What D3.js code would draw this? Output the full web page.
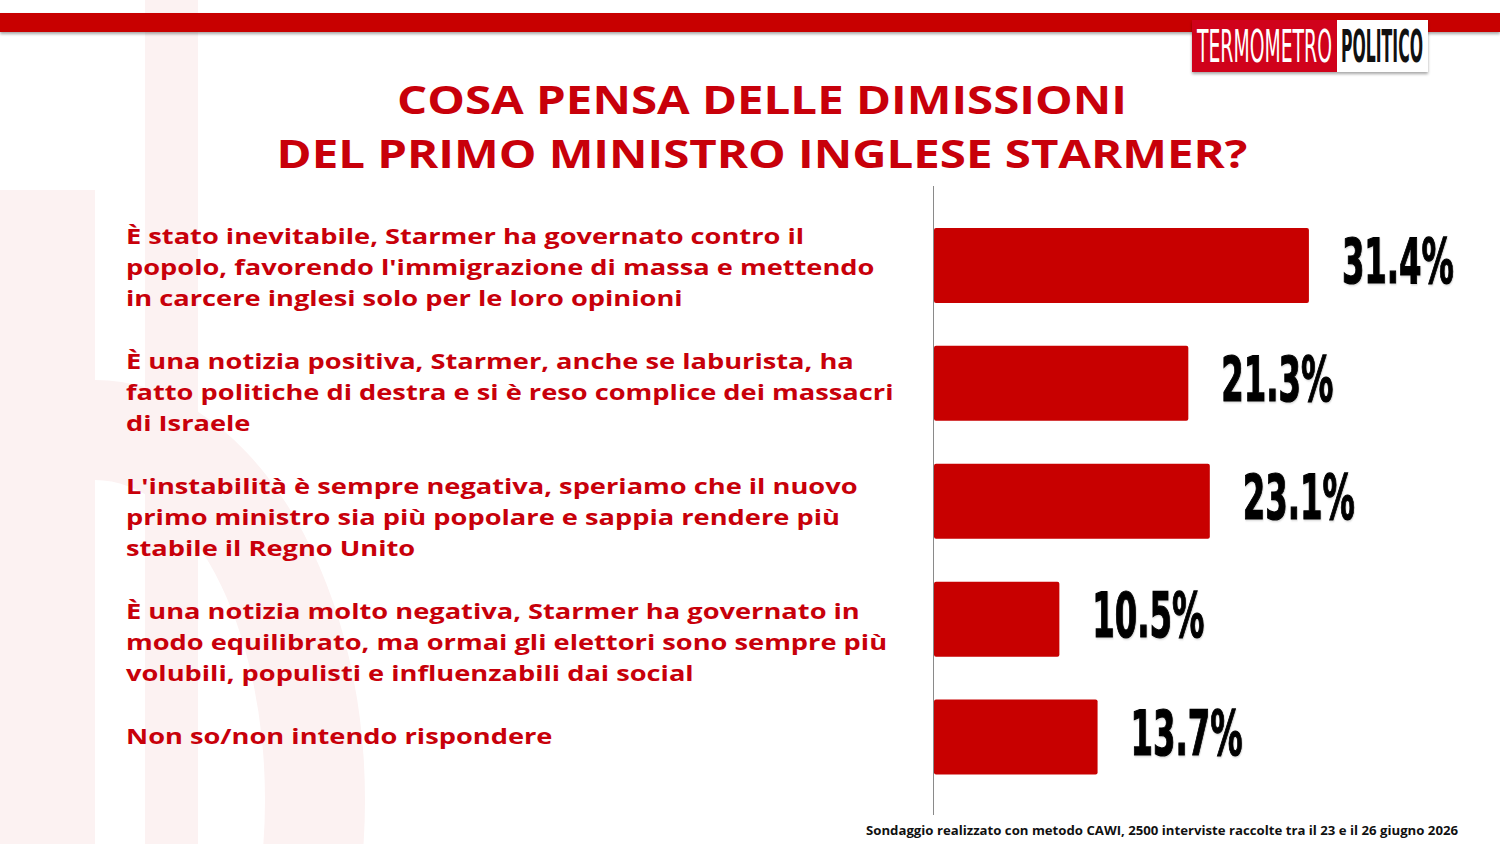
<!DOCTYPE html>
<html>
<head>
    <meta charset="utf-8">
    <title>Dimissioni Starmer</title>
    <script src="https://cdnjs.cloudflare.com/ajax/libs/d3/7.8.5/d3.min.js"></script>
    <style>
        body {
            margin: 0;
            background: #ffffff;
            overflow: hidden;
        }
        #chart {
            width: 1500px;
            height: 844px;
        }
        .label {
            font-family: "Open Sans", "Noto Sans", sans-serif;
            font-weight: 700;
            fill: #c8000a;
        }
        .value {
            font-family: "Liberation Sans Narrow", "DejaVu Sans Condensed", "Liberation Sans", sans-serif;
            font-weight: 700;
            fill: #000;
            stroke: #000;
            stroke-width: 1.2px;
        }
    </style>
</head>
<body>
    <div id="chart"></div>

    <script>
        // risposte (già spezzate su più righe come nell'originale)
        const answers = [
            ["È stato inevitabile, Starmer ha governato contro il",
             "popolo, favorendo l'immigrazione di massa e mettendo",
             "in carcere inglesi solo per le loro opinioni"],
            ["È una notizia positiva, Starmer, anche se laburista, ha",
             "fatto politiche di destra e si è reso complice dei massacri",
             "di Israele"],
            ["L'instabilità  è sempre negativa, speriamo che il nuovo",
             "primo ministro sia più popolare e sappia rendere più",
             "stabile il Regno Unito"],
            ["È una notizia molto negativa, Starmer ha governato in",
             "modo equilibrato, ma ormai gli elettori sono sempre più",
             "volubili, populisti e influenzabili dai social"],
            ["Non so/non intendo rispondere"]
        ];
        const values = [31.4, 21.3, 23.1, 10.5, 13.7];

        const titleLines = ["COSA PENSA DELLE DIMISSIONI", "DEL PRIMO MINISTRO INGLESE STARMER?"];
        const footnote = "Sondaggio realizzato con metodo CAWI, 2500 interviste raccolte tra il 23 e il 26 giugno 2026";

        const width = 1500;
        const height = 844;
        const red = "#c80000";

        const svg = d3.select("#chart")
            .append("svg")
            .attr("width", width)
            .attr("height", height);

        const defs = svg.append("defs");
        defs.append("filter")
            .attr("id", "shadow")
            .attr("x", "-5%").attr("y", "-20%")
            .attr("width", "110%").attr("height", "160%")
            .append("feDropShadow")
            .attr("dx", 0).attr("dy", 2)
            .attr("stdDeviation", 1.5)
            .attr("flood-color", "#000")
            .attr("flood-opacity", 0.35);
        defs.append("filter")
            .attr("id", "halo")
            .append("feDropShadow")
            .attr("dx", 1).attr("dy", 1)
            .attr("stdDeviation", 1.2)
            .attr("flood-color", "#000")
            .attr("flood-opacity", 0.2);

        // allarga orizzontalmente un testo (il font originale è più largo)
        function stretch(sel, sx, ox) {
            sel.attr("transform", `translate(${ox},0) scale(${sx},1) translate(${-ox},0)`);
        }

        // filigrana di sfondo (molto chiara)
        const wm = svg.append("g").attr("fill", "#fcf2f2");
        wm.append("rect").attr("x", 145).attr("y", 0).attr("width", 53).attr("height", height);
        wm.append("rect").attr("x", 0).attr("y", 190).attr("width", 95).attr("height", height - 190);
        wm.append("path")
            .attr("fill-rule", "evenodd")
            .attr("d", "M95,380 A270,420 0 0 1 95,1220 Z M95,480 A170,320 0 0 1 95,1120 Z");

        // barra rossa in alto
        svg.append("rect")
            .attr("x", 0).attr("y", 13)
            .attr("width", width).attr("height", 19)
            .attr("fill", red)
            .attr("filter", "url(#shadow)");

        // logo
        const logo = svg.append("g");
        logo.append("rect").attr("x", 1192).attr("y", 20).attr("width", 236).attr("height", 52)
            .attr("fill", "#fff").attr("filter", "url(#shadow)");
        logo.append("rect").attr("x", 1192).attr("y", 20).attr("width", 145).attr("height", 52).attr("fill", "#d0021b");
        const logoFont = '"Liberation Sans Narrow", "DejaVu Sans Condensed", sans-serif';
        const logoText = [
            { t: "TERMOMETRO", x: 1197, w: 135, c: "#fff", wt: 400 },
            { t: "POLITICO", x: 1341, w: 82, c: "#111", wt: 700 }
        ];
        logo.selectAll("text")
            .data(logoText)
            .join("text")
            .attr("x", d => d.x).attr("y", 62)
            .attr("font-family", logoFont)
            .attr("font-size", 44)
            .attr("font-weight", d => d.wt)
            .attr("fill", d => d.c)
            .text(d => d.t)
            .each(function (d) {
                stretch(d3.select(this), d.w / this.getComputedTextLength(), d.x);
            });

        // titolo
        svg.append("g")
            .selectAll("text")
            .data(titleLines)
            .join("text")
            .attr("class", "label")
            .attr("x", 762)
            .attr("y", (d, i) => 114 + i * 54)
            .attr("text-anchor", "middle")
            .attr("font-size", 39.5)
            .attr("font-weight", 800)
            .text(d => d)
            .call(stretch, 1.2, 762);

        // scale
        const x = d3.scaleLinear()
            .domain([0, 40])
            .range([934, 934 + 40 * 11.94]);

        const y = d3.scaleBand()
            .domain(d3.range(values.length))
            .range([206.5, 796])
            .paddingInner(0.364)
            .paddingOuter(0.182);

        // righe delle etichette, passo indipendente dalle barre
        const rowY = d3.scalePoint()
            .domain(d3.range(answers.length))
            .range([244, 744]);

        // asse verticale
        svg.append("line")
            .attr("x1", x(0) - 0.5).attr("x2", x(0) - 0.5)
            .attr("y1", 186).attr("y2", 815)
            .attr("stroke", "#8a8a8a")
            .attr("stroke-width", 1);

        // barre
        svg.append("g")
            .selectAll("rect")
            .data(values)
            .join("rect")
            .attr("x", x(0))
            .attr("y", (d, i) => y(i))
            .attr("width", d => x(d) - x(0))
            .attr("height", y.bandwidth())
            .attr("rx", 2)
            .attr("fill", red);

        // valori
        svg.append("g")
            .selectAll("text")
            .data(values)
            .join("text")
            .attr("class", "value")
            .attr("font-size", 63)
            .attr("filter", "url(#halo)")
            .text(d => d.toFixed(1) + "%")
            .each(function (d, i) {
                const sx = 112 / this.getComputedTextLength();
                const tx = x(d) + 33;
                const ty = y(i) + y.bandwidth() / 2 + 18;
                d3.select(this).attr("transform", `translate(${tx},${ty}) scale(${sx},1)`);
            });

        // etichette delle risposte
        const labels = svg.append("g")
            .selectAll("text")
            .data(answers)
            .join("text")
            .attr("class", "label")
            .attr("font-size", 22)
            .attr("y", (d, i) => rowY(i))
            .call(stretch, 1.238, 126);

        labels.selectAll("tspan")
            .data(d => d)
            .join("tspan")
            .attr("x", 126)
            .attr("dy", (d, j) => j === 0 ? 0 : 31)
            .text(d => d);

        // nota
        svg.append("text")
            .attr("x", 1458)
            .attr("y", 835)
            .attr("text-anchor", "end")
            .attr("font-family", '"Open Sans", "Noto Sans", sans-serif')
            .attr("font-weight", 700)
            .attr("font-size", 13.2)
            .attr("fill", "#111")
            .text(footnote);
    </script>
</body>
</html>
